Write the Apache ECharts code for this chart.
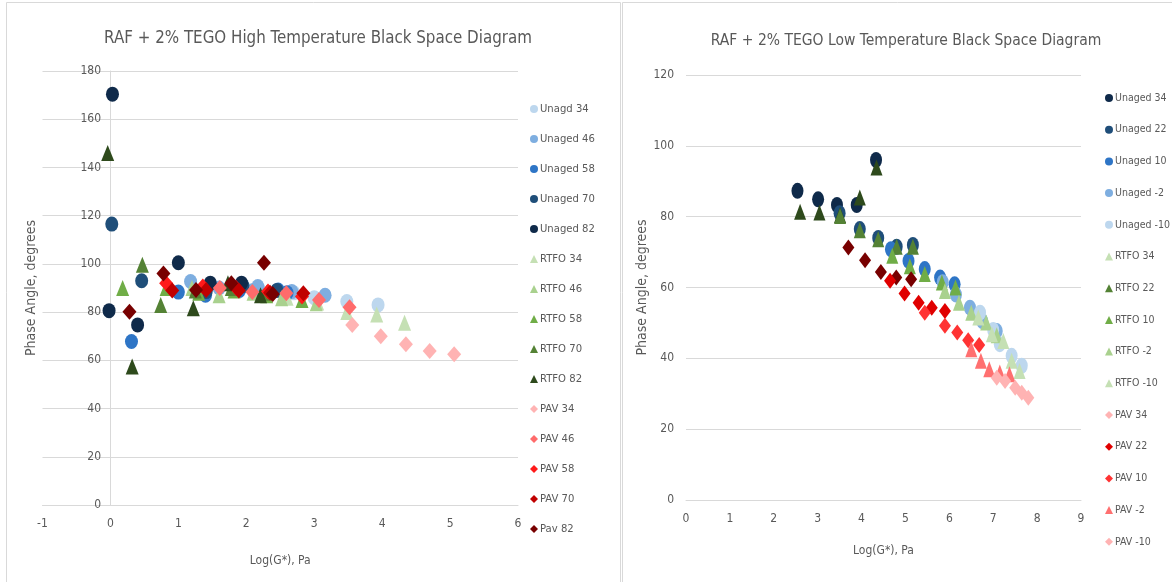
<!DOCTYPE html>
<html><head><meta charset="utf-8">
<script src="https://cdn.jsdelivr.net/npm/echarts@6/dist/echarts.min.js"></script>
<style>html,body{margin:0;padding:0;background:#fff}#c{width:1172px;height:582px}</style>
</head><body><div id="c"></div>
<script>
// ---------- High temperature (left) ----------
const hiNames = ["Unagd 34","Unaged 46","Unaged 58","Unaged 70","Unaged 82","RTFO 34","RTFO 46","RTFO 58","RTFO 70","RTFO 82","PAV 34","PAV 46","PAV 58","PAV 70","Pav 82"];
const hiUnagd34 = [[2.2,89],[2.7,88],[3.0,86],[3.48,84.4],[3.94,83]];
const hiUnaged46 = [[1.18,92.7],[1.6,90],[2.17,90.6],[2.67,88.5],[3.16,87],[2.1,89]];
const hiUnaged58 = [[0.31,67.8],[1.0,88.3],[1.4,87],[1.9,89],[2.47,89.2],[2.6,88]];
const hiUnaged70 = [[0.02,116.5],[0.46,93],[1.41,88.5],[1.95,91],[2.45,89]];
const hiUnaged82 = [[0.03,170.4],[-0.02,80.6],[0.40,74.7],[1.0,100.5],[1.47,92],[1.93,92]];
const hiRTFO34 = [[2.6,86],[3.05,84],[3.48,80],[3.92,79],[4.33,75.6]];
const hiRTFO46 = [[1.2,90],[1.6,87],[2.1,88],[2.52,85.8],[3.03,83.7]];
const hiRTFO58 = [[0.18,90],[0.82,90],[1.3,88],[1.82,89],[2.3,87],[2.82,85]];
const hiRTFO70 = [[0.47,99.6],[0.74,83],[1.25,89],[1.78,90],[2.3,88]];
const hiRTFO82 = [[-0.04,146],[0.32,57.4],[1.22,81.6],[1.73,92],[2.21,87]];
const hiPAV34 = [[3.56,74.7],[3.98,70],[4.35,66.7],[4.7,63.9],[5.06,62.5]];
const hiPAV46 = [[1.61,90],[2.09,88.3],[2.59,87.8],[3.07,85],[3.52,82]];
const hiPAV58 = [[0.82,92],[1.36,90.6],[1.85,90],[2.32,88.5],[2.82,86.5]];
const hiPAV70 = [[0.91,89],[1.41,89.2],[1.89,89],[2.35,88],[2.84,87.8]];
const hiPav82 = [[0.28,80.2],[0.78,96],[1.26,89.2],[1.78,92],[2.26,100.5],[2.39,87.5]];
const hiData = [hiUnagd34,hiUnaged46,hiUnaged58,hiUnaged70,hiUnaged82,hiRTFO34,hiRTFO46,hiRTFO58,hiRTFO70,hiRTFO82,hiPAV34,hiPAV46,hiPAV58,hiPAV70,hiPav82];
const hiColors = ["#bdd7ee","#7eaee0","#2e75c6","#1f4e79","#0f2a4a","#c5e0b4","#a9d18e","#70ad47","#548235","#2e4a1c","#ffb3b3","#ff6b6b","#ff1a1a","#c00000","#780000"];
const hiSymbols = ["circle","circle","circle","circle","circle","triangle","triangle","triangle","triangle","triangle","diamond","diamond","diamond","diamond","diamond"];

// ---------- Low temperature (right) ----------
const loNames = ["Unaged 34","Unaged 22","Unaged 10","Unaged -2","Unaged -10","RTFO 34","RTFO 22","RTFO 10","RTFO -2","RTFO -10","PAV 34","PAV 22","PAV 10","PAV -2","PAV -10"];
const loUnaged34 = [[2.54,87.3],[3.01,84.9],[3.44,83.3],[3.89,83.3],[4.33,96]];
const loUnaged22 = [[3.5,81],[3.96,76.5],[4.38,74],[4.8,71.5],[5.17,72]];
const loUnaged10 = [[4.67,70.8],[5.07,67.5],[5.44,65.2],[5.79,62.8],[6.12,60.9]];
const loUnagedM2 = [[5.85,61.5],[6.15,58],[6.47,54.3],[6.75,50.5],[7.08,47.7]];
const loUnagedM10 = [[6.7,52.9],[7.0,48],[7.15,44],[7.42,40.7],[7.65,37.9]];
const loRTFO34 = [[2.6,81.4],[3.04,81.2],[3.51,80.5],[3.96,85.4],[4.34,93.9]];
const loRTFO22 = [[3.51,80.2],[3.96,76.2],[4.38,73.6],[4.8,71.5],[5.17,71.5]];
const loRTFO10 = [[4.7,69],[5.1,66],[5.44,63.8],[5.83,61.4],[6.14,60]];
const loRTFOM2 = [[5.9,59],[6.22,55.7],[6.5,52.9],[6.84,50.1],[7.08,46.5]];
const loRTFOM10 = [[6.66,51.5],[6.97,46.8],[7.23,44.9],[7.42,39.3],[7.6,36.4]];
const loPAV34 = [[3.7,71.3],[4.08,67.7],[4.44,64.4],[4.79,62.8],[5.13,62.3]];
const loPAV22 = [[4.65,61.9],[4.98,58.3],[5.3,55.7],[5.6,54.3],[5.9,53.4]];
const loPAV10 = [[5.44,52.9],[5.9,49.2],[6.18,47.3],[6.43,45.1],[6.68,43.8]];
const loPAVM2 = [[6.5,42.6],[6.72,39.3],[6.91,36.9],[7.15,36],[7.37,35.5]];
const loPAVM10 = [[7.08,34.5],[7.27,33.6],[7.5,31.7],[7.65,30.3],[7.8,28.9]];
const loData = [loUnaged34,loUnaged22,loUnaged10,loUnagedM2,loUnagedM10,loRTFO34,loRTFO22,loRTFO10,loRTFOM2,loRTFOM10,loPAV34,loPAV22,loPAV10,loPAVM2,loPAVM10];
const loColors = ["#0f2a4a","#1f4e79","#2e75c6","#7eaee0","#bdd7ee","#2e4a1c","#548235","#70ad47","#a9d18e","#c5e0b4","#780000","#e00000","#ff3333","#ff7070","#ffb3b3"];
const loSymbols = ["circle","circle","circle","circle","circle","triangle","triangle","triangle","triangle","triangle","diamond","diamond","diamond","triangle","diamond"];

const hiXTicks = {min:-1,max:6,interval:1};
const hiYTicks = {min:0,max:180,interval:20};
const loXTicks = {min:0,max:9,interval:1};
const loYTicks = {min:0,max:120,interval:20};

const FONT = '"DejaVu Sans Condensed","Liberation Sans",sans-serif';
const TXT = '#595959';
const GRID = '#d9d9d9';

function axisBase(t){
  return Object.assign({type:'value',
    axisLine:{show:true,lineStyle:{color:GRID}},
    axisTick:{show:false},
    splitLine:{show:false},
    axisLabel:{color:TXT,fontFamily:FONT,fontSize:12},
    nameTextStyle:{color:TXT,fontFamily:FONT,fontSize:12}
  },t);
}

const series = [];
hiData.forEach((d,i)=>series.push({name:hiNames[i],type:'scatter',xAxisIndex:0,yAxisIndex:0,data:d,symbol:hiSymbols[i],symbolSize:hiSymbols[i]==='circle'?[13,15]:(hiSymbols[i]==='triangle'?[13,16]:[14,16]),itemStyle:{color:hiColors[i],opacity:1}}));
loData.forEach((d,i)=>series.push({name:loNames[i],type:'scatter',xAxisIndex:1,yAxisIndex:1,data:d,symbol:loSymbols[i],symbolSize:[12,16],itemStyle:{color:loColors[i],opacity:1}}));

const yNameStyle = {color:TXT,fontFamily:FONT,fontSize:14};
const chart = echarts.init(document.getElementById('c'),null,{renderer:'canvas'});
chart.setOption({
  animation:false,
  backgroundColor:'#fff',
  title:[
    {text:'RAF + 2% TEGO High Temperature Black Space Diagram',left:313,top:25,textAlign:'center',textStyle:{color:TXT,fontFamily:FONT,fontSize:16.8,fontWeight:'normal'}},
    {text:'RAF + 2% TEGO Low Temperature Black Space Diagram',left:901,top:28,textAlign:'center',textStyle:{color:TXT,fontFamily:FONT,fontSize:15.5,fontWeight:'normal'}}
  ],
  graphic:[
    {type:'rect',shape:{x:6.5,y:2.5,width:614,height:600},style:{fill:null,stroke:GRID,lineWidth:1},silent:true,z:-10},
    {type:'rect',shape:{x:622.5,y:2.5,width:560,height:600},style:{fill:null,stroke:GRID,lineWidth:1},silent:true,z:-10}
  ],
  legend:[
    {orient:'vertical',left:525,top:96,itemWidth:8,itemHeight:8,itemGap:14,data:hiNames,
     textStyle:{color:TXT,fontFamily:FONT,fontSize:11.2,lineHeight:16,padding:[0,0,0,-3]}},
    {orient:'vertical',left:1100,top:85,itemWidth:8,itemHeight:8,itemGap:15.7,data:loNames,
     textStyle:{color:TXT,fontFamily:FONT,fontSize:10.5,lineHeight:16,padding:[0,0,0,-3]}}
  ],
  grid:[
    {left:42.5,width:475.5,top:71,height:434,outerBoundsMode:'none'},
    {left:686,width:395,top:75,height:425,outerBoundsMode:'none'}
  ],
  xAxis:[
    axisBase(Object.assign({gridIndex:0,name:'Log(G*), Pa',nameLocation:'middle',nameGap:50,axisLabel:{color:TXT,fontFamily:FONT,fontSize:12,margin:13}},hiXTicks)),
    axisBase(Object.assign({gridIndex:1,name:'Log(G*), Pa',nameLocation:'middle',nameGap:45,axisLabel:{color:TXT,fontFamily:FONT,fontSize:12,margin:13}},loXTicks))
  ],
  yAxis:[
    axisBase(Object.assign({gridIndex:0,name:'Phase Angle, degrees',nameLocation:'middle',nameGap:4,nameTextStyle:yNameStyle,axisLabel:{color:TXT,fontFamily:FONT,fontSize:12,margin:-58.5},splitLine:{show:true,lineStyle:{color:GRID}}},hiYTicks)),
    axisBase(Object.assign({gridIndex:1,name:'Phase Angle, degrees',nameLocation:'middle',nameGap:30,nameTextStyle:yNameStyle,axisLabel:{color:TXT,fontFamily:FONT,fontSize:12,margin:12},axisLine:{show:false},splitLine:{show:true,lineStyle:{color:GRID}}},loYTicks))
  ],
  series:series
});
</script></body></html>
